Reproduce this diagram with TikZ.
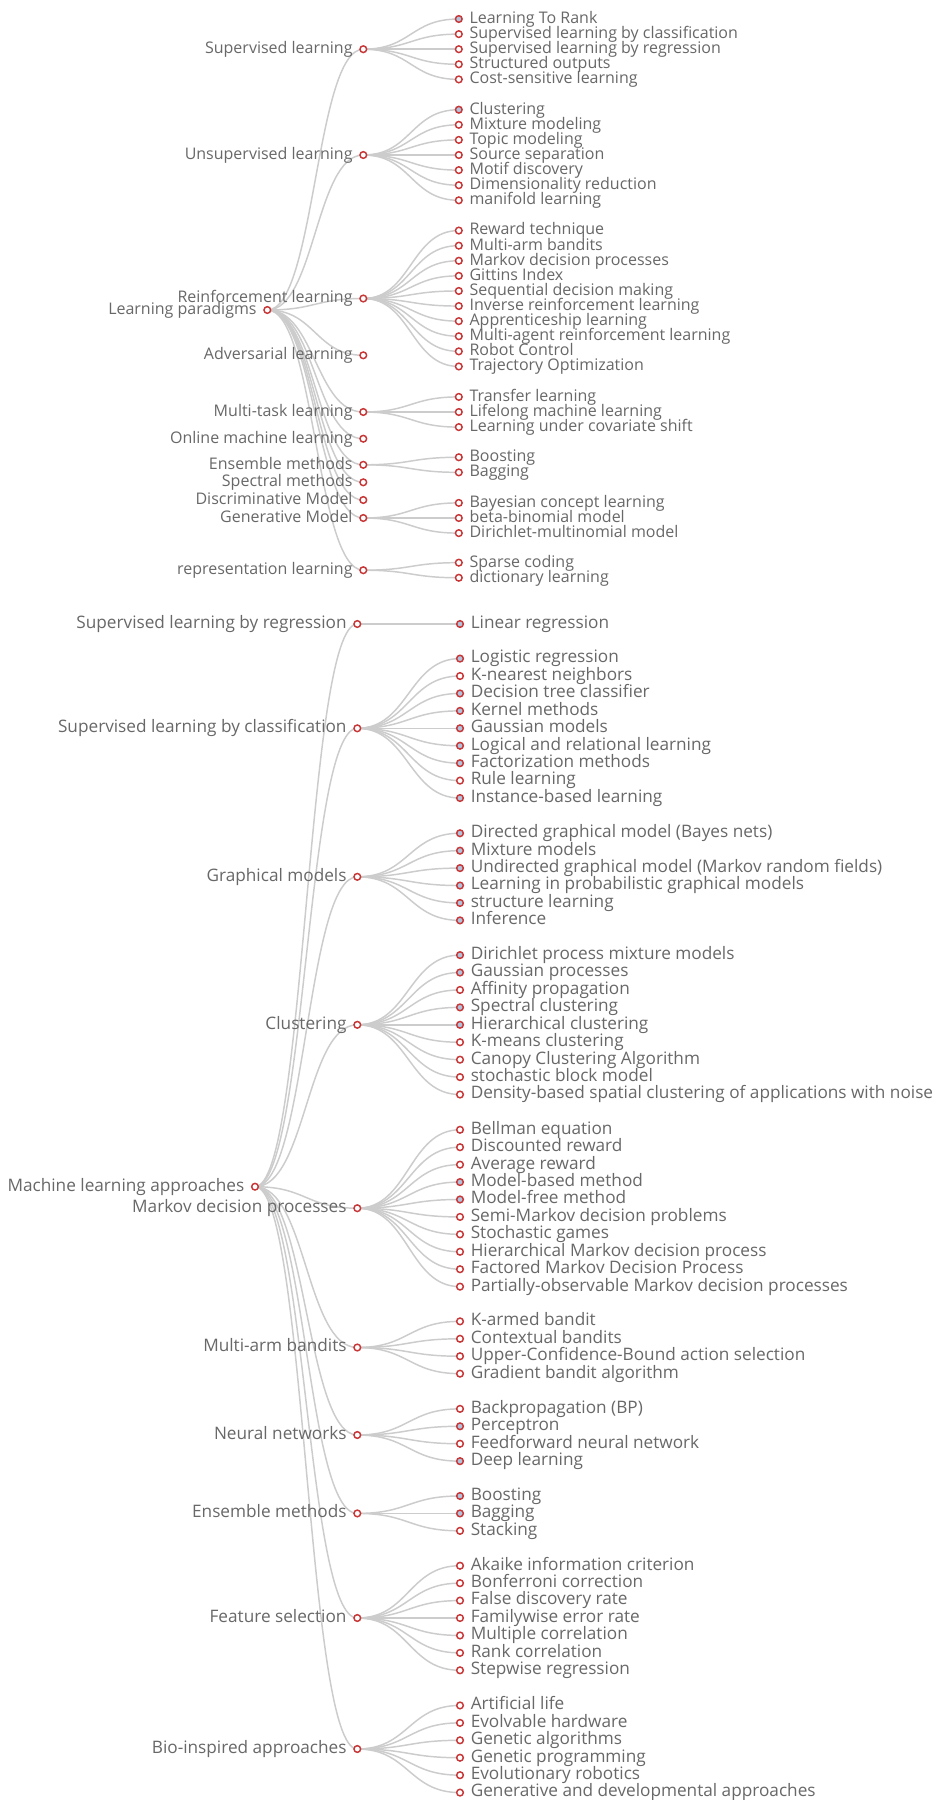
\documentclass[tikz,border=0pt]{standalone}
\usepackage{fontspec}
\setmainfont{Open Sans}
\usetikzlibrary{backgrounds}
\definecolor{txt}{RGB}{104,104,104}
\definecolor{linkgray}{RGB}{204,204,204}
\definecolor{dotred}{RGB}{200,55,55}
\definecolor{f}{RGB}{176,196,222}
\colorlet{o}{white}
\newcommand{\midnode}[6]{% #1 name, #2 x, #3 y, #4 text, #5 label style, #6 parent
  \node[dot] (#1) at (#2,#3) {};
  \node[#5, anchor=mid east] (#1-t) at (#2-10.5,#3+0.8) {#4};
  \begin{scope}[on background layer]
    \draw[link] (#6.center) .. controls +(\cdx,0) and +(-\cdx,0) .. (#1.center);
  \end{scope}}
\newcommand{\leafset}[7]{% #1 parent, #2 leaf x, #3 centre y, #4 count, #5 spacing, #6 label style, #7 list text/fill
  \foreach \t/\s [count=\i] in {#7} {
    \pgfmathsetmacro\yy{#3+(\i-(#4+1)/2)*#5}
    \node[dot, fill=\s] (#1-\i) at (#2,\yy) {};
    \node[#6, anchor=mid west] (#1-\i-t) at (#2+10.5,\yy+0.8) {\t};
    \begin{scope}[on background layer]
      \draw[link] (#1.center) .. controls +(\ldx,0) and +(-\ldx,0) .. (#1-\i.center);
    \end{scope}
  }}
\begin{document}
\begin{tikzpicture}[x=0.75pt,y=-0.75pt,
  dot/.style={circle, draw=dotred, fill=white, line width=1.1pt, minimum size=5pt, inner sep=0pt},
  link/.style={draw=linkgray, line width=1.1pt},
  lblA/.style={text=txt, inner sep=0pt, font=\fontsize{12}{14}\selectfont},
  lblB/.style={text=txt, inner sep=0pt, font=\fontsize{12.9}{15}\selectfont}]
\begin{scope}[on background layer]
  \fill[white] (0,0) rectangle (935,1800);
\end{scope}
\path[use as bounding box] (0,0) rectangle (935,1800);

% ---------------- Tree 1: Learning paradigms ----------------
\node[dot] (lp) at (267.3,310) {};
\node[lblA, anchor=mid east] (lp-t) at (256.8,310.8) {Learning paradigms};
\def\cdx{47.8}\def\ldx{48}
\midnode{sl}{363.3}{49.2}{Supervised learning}{lblA}{lp}
\midnode{ul}{363.3}{155}{Unsupervised learning}{lblA}{lp}
\midnode{rl}{363.3}{298.5}{Reinforcement learning}{lblA}{lp}
\midnode{adv}{363.3}{355.3}{Adversarial learning}{lblA}{lp}
\midnode{mt}{363.3}{412}{Multi-task learning}{lblA}{lp}
\midnode{oml}{363.3}{438.7}{Online machine learning}{lblA}{lp}
\midnode{ens}{363.3}{464.8}{Ensemble methods}{lblA}{lp}
\midnode{spm}{363.3}{482.3}{Spectral methods}{lblA}{lp}
\midnode{dm}{363.3}{500}{Discriminative Model}{lblA}{lp}
\midnode{gm}{363.3}{518}{Generative Model}{lblA}{lp}
\midnode{rep}{363.3}{570.2}{representation learning}{lblA}{lp}

\leafset{sl}{458.8}{49.2}{5}{15.1}{lblA}{Learning To Rank/f, Supervised learning by classification/o,
  Supervised learning by regression/o, Structured outputs/o, Cost-sensitive learning/o}
\leafset{ul}{458.8}{155}{7}{15.1}{lblA}{Clustering/f, Mixture modeling/o, Topic modeling/o,
  Source separation/o, Motif discovery/o, Dimensionality reduction/o, manifold learning/o}
\leafset{rl}{458.8}{298.5}{10}{15.1}{lblA}{Reward technique/o, Multi-arm bandits/o,
  Markov decision processes/o, Gittins Index/o, Sequential decision making/o,
  Inverse reinforcement learning/o, Apprenticeship learning/o,
  Multi-agent reinforcement learning/o, Robot Control/o, Trajectory Optimization/o}
\leafset{mt}{458.8}{412}{3}{15.1}{lblA}{Transfer learning/o, Lifelong machine learning/o,
  Learning under covariate shift/o}
\leafset{ens}{458.8}{464.8}{2}{15.1}{lblA}{Boosting/o, Bagging/o}
\leafset{gm}{458.8}{518}{3}{15.1}{lblA}{Bayesian concept learning/o, beta-binomial model/o,
  Dirichlet-multinomial model/o}
\leafset{rep}{458.8}{570.2}{2}{15.1}{lblA}{Sparse coding/o, dictionary learning/o}

% ---------------- Tree 2: Machine learning approaches ----------------
\node[dot] (mla) at (255,1186.7) {};
\node[lblB, anchor=mid east] (mla-t) at (244.5,1187.5) {Machine learning approaches};
\def\cdx{51.2}\def\ldx{51.3}
\midnode{slr}{357.3}{624}{Supervised learning by regression}{lblB}{mla}
\midnode{slc}{357.3}{728.3}{Supervised learning by classification}{lblB}{mla}
\midnode{grm}{357.3}{876.8}{Graphical models}{lblB}{mla}
\midnode{clu}{357.3}{1024.8}{Clustering}{lblB}{mla}
\midnode{mdp}{357.3}{1208.2}{Markov decision processes}{lblB}{mla}
\midnode{mab}{357.3}{1347.5}{Multi-arm bandits}{lblB}{mla}
\midnode{nn}{357.3}{1435}{Neural networks}{lblB}{mla}
\midnode{em}{357.3}{1513.4}{Ensemble methods}{lblB}{mla}
\midnode{fs}{357.3}{1618}{Feature selection}{lblB}{mla}
\midnode{bio}{357.3}{1749}{Bio-inspired approaches}{lblB}{mla}

\leafset{slr}{460}{624}{1}{17.43}{lblB}{Linear regression/f}
\leafset{slc}{460}{728.3}{9}{17.43}{lblB}{Logistic regression/f, K-nearest neighbors/o,
  Decision tree classifier/f, Kernel methods/f, Gaussian models/f,
  Logical and relational learning/f, Factorization methods/f, Rule learning/o,
  Instance-based learning/f}
\leafset{grm}{460}{876.8}{6}{17.43}{lblB}{Directed graphical model (Bayes nets)/f,
  Mixture models/f, Undirected graphical model (Markov random fields)/f,
  Learning in probabilistic graphical models/f, structure learning/f, Inference/f}
\leafset{clu}{460}{1024.8}{9}{17.43}{lblB}{Dirichlet process mixture models/f,
  Gaussian processes/f, Affinity propagation/o, Spectral clustering/f,
  Hierarchical clustering/f, K-means clustering/o, Canopy Clustering Algorithm/o,
  stochastic block model/o, Density-based spatial clustering of applications with noise/o}
\leafset{mdp}{460}{1208.2}{10}{17.43}{lblB}{Bellman equation/o, Discounted reward/o,
  Average reward/o, Model-based method/f, Model-free method/f,
  Semi-Markov decision problems/o, Stochastic games/o,
  Hierarchical Markov decision process/o, Factored Markov Decision Process/o,
  Partially-observable Markov decision processes/o}
\leafset{mab}{460}{1347.5}{4}{17.43}{lblB}{K-armed bandit/o, Contextual bandits/o,
  Upper-Confidence-Bound action selection/o, Gradient bandit algorithm/o}
\leafset{nn}{460}{1435}{4}{17.43}{lblB}{Backpropagation (BP)/o, Perceptron/f,
  Feedforward neural network/o, Deep learning/f}
\leafset{em}{460}{1513.4}{3}{17.43}{lblB}{Boosting/f, Bagging/f, Stacking/o}
\leafset{fs}{460}{1618}{7}{17.43}{lblB}{Akaike information criterion/o,
  Bonferroni correction/o, False discovery rate/o, Familywise error rate/o,
  Multiple correlation/o, Rank correlation/o, Stepwise regression/o}
\leafset{bio}{460}{1749}{6}{17.43}{lblB}{Artificial life/o, Evolvable hardware/o,
  Genetic algorithms/o, Genetic programming/o, Evolutionary robotics/o,
  Generative and developmental approaches/o}
\end{tikzpicture}
\end{document}
